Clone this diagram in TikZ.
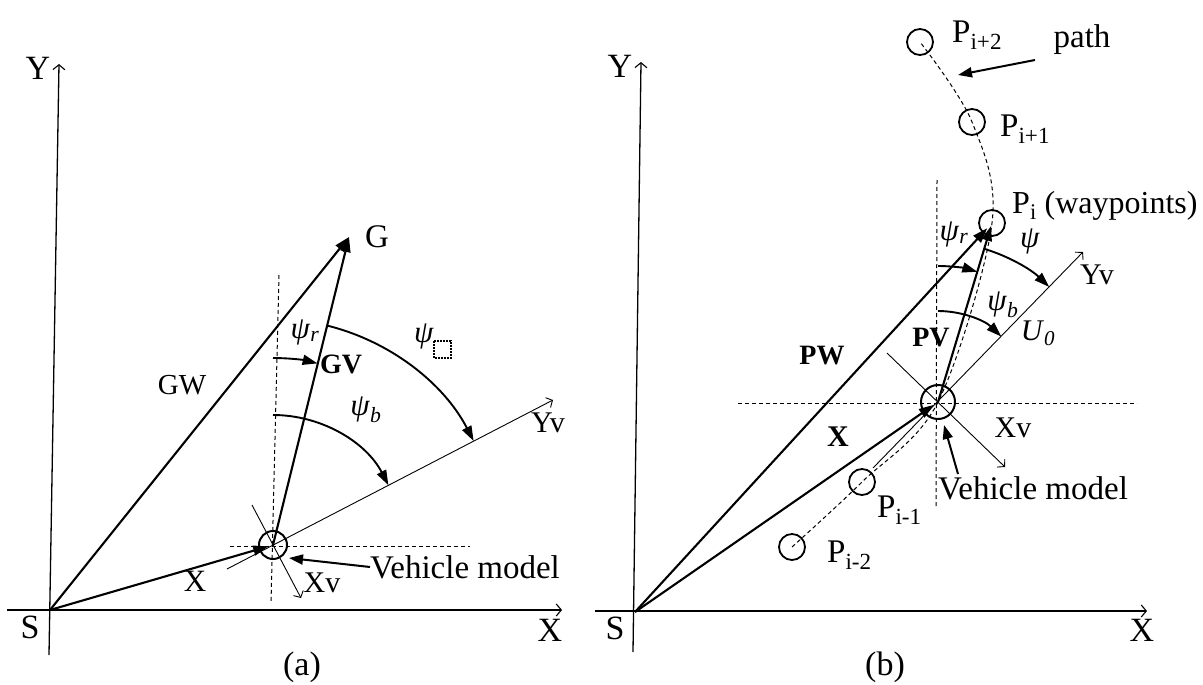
\documentclass[tikz,border=0pt]{standalone}
\usepackage{fontspec}
\setmainfont{Liberation Serif}
\usetikzlibrary{arrows.meta}
\newcommand{\fsz}[1]{\fontsize{#1}{#1}\selectfont}
\newcommand{\psisub}[1]{\textit{ψ}\textsubscript{\textit{#1}}}
\begin{document}
\begin{tikzpicture}[x=1pt,y=1pt,
  vec/.style={line width=2.1pt,-{Triangle[length=15pt,width=10pt]}},
  axisline/.style={line width=1.3pt,-{Straight Barb[length=5pt,width=12pt,line width=1.1pt]}},
  vaxis/.style={line width=0.9pt,-{Straight Barb[length=5pt,width=11pt,line width=0.9pt]}},
  guide/.style={line width=1pt,dash pattern=on 4pt off 3pt},
  pathline/.style={line width=1pt,dash pattern=on 4pt off 3pt},
  angarc/.style={line width=1.9pt,-{Triangle[length=15pt,width=10pt]}},
  pointer/.style={line width=2pt,-{Triangle[length=14pt,width=10pt]}},
  vehicle/.style={circle,draw,line width=2pt,inner sep=0pt},
  wpt/.style={circle,draw,line width=1.8pt,inner sep=0pt,minimum size=26pt},
  txt/.style={inner sep=0pt,font=\fsz{33}},
  big/.style={inner sep=0pt,font=\fsz{34}},
  bold/.style={inner sep=0pt,font=\fsz{28}\bfseries},
  psil/.style={inner sep=0pt,font=\fsz{31}},
]
\useasboundingbox (0,0) rectangle (1203,-685);

% ================= panel (a) =================
\coordinate (S1) at (50,-610);
\coordinate (X1s) at (7,-610);   \coordinate (X1e) at (562,-610);
\coordinate (Y1s) at (49,-655);  \coordinate (Y1e) at (59,-64);
\draw[axisline] (X1s) -- (X1e);
\draw[axisline] (Y1s) -- (Y1e);

\node[vehicle,minimum size=28pt] (V1) at (273,-545) {};
\coordinate (G) at (349,-237);

\coordinate (gv1a) at (279,-275); \coordinate (gv1b) at (271,-603);
\coordinate (gh1a) at (230,-546); \coordinate (gh1b) at (470,-546);
\draw[guide] (gv1a) -- (gv1b);
\draw[guide] (gh1a) -- (gh1b);

\coordinate (Yv1s) at (227,-569); \coordinate (Yv1e) at (553,-400);
\coordinate (Xv1s) at (252,-505); \coordinate (Xv1e) at (301,-598);
\draw[vaxis] (Yv1s) -- (Yv1e);
\draw[vaxis] (Xv1s) -- (Xv1e);

\draw[vec] (S1) -- (G);
\draw[vec,shorten >=5pt] (S1) -- (V1.center);
\draw[vec] (V1.center) -- (G);

\draw[angarc] (V1.center) ++(90:187) arc[start angle=90,end angle=76.2,radius=187];
\draw[angarc] (V1.center) ++(90:130) arc[start angle=90,end angle=27.4,radius=130];
\draw[angarc] (V1.center) ++(76.2:226) arc[start angle=76.2,end angle=27.4,radius=226];

\node[big] (Ylab1) at (38,-68) {Y};
\node[big] (Xlab1) at (550,-630) {X};
\node[big] (Slab1) at (30,-627) {S};
\node[big] (capa) at (302,-667) {(a)};
\node[txt] (Glab) at (377,-237) {G};
\node[txt,font=\fsz{29}] (GWlab) at (182,-385) {GW};
\node[bold] (GVlab) at (341,-364) {GV};
\node[txt,font=\fsz{31}] (Xveclab1) at (195,-581) {X};
\node[txt,font=\fsz{30}] (Xvlab1) at (322,-583) {Xv};
\node[txt,font=\fsz{30}] (Yvlab1) at (548,-423) {Yv};
\node[txt,anchor=west] (VM1) at (370,-567) {Vehicle model};
\coordinate (vm1tip) at (289,-558);
\draw[pointer] (VM1.west) -- (vm1tip);
\node[psil] (psir1) at (305,-332) {\psisub{r}};
\node[psil] (psib1) at (366,-410) {\psisub{b}};
\node[psil] (psi1) at (424,-336) {\textit{ψ}};
\draw[line width=1.4pt,dash pattern=on 1.6pt off 1.4pt] (434,-341) rectangle (451,-358);

% ================= panel (b) =================
\coordinate (S2) at (635,-612);
\coordinate (X2s) at (595,-611);  \coordinate (X2e) at (1147,-611);
\coordinate (Y2s) at (633,-652);  \coordinate (Y2e) at (641,-62);
\draw[axisline] (X2s) -- (X2e);
\draw[axisline] (Y2s) -- (Y2e);

\node[vehicle,minimum size=34pt] (V2) at (938,-402) {};
\node[wpt] (Pi)  at (992,-223) {};
\node[wpt] (Pi1) at (972,-122) {};
\node[wpt] (Pi2) at (920,-42) {};
\node[wpt] (Pm1) at (862,-482) {};
\node[wpt] (Pm2) at (792,-547) {};

\coordinate (gv2a) at (937,-180); \coordinate (gv2b) at (936,-508);
\coordinate (gh2a) at (738,-403); \coordinate (gh2b) at (1137,-403);
\draw[guide] (gv2a) -- (gv2b);
\draw[guide] (gh2a) -- (gh2b);

\draw[pathline] plot[smooth,tension=0.55] coordinates {(Pm2.center) (Pm1.center) (V2.center) (Pi.center) (Pi1.center) (Pi2.center)};

\coordinate (Yv2s) at (873,-468); \coordinate (Yv2e) at (1083,-252);
\coordinate (Xv2s) at (887,-353); \coordinate (Xv2e) at (1005,-467);
\draw[vaxis] (Yv2s) -- (Yv2e);
\draw[vaxis] (Xv2s) -- (Xv2e);

\draw[vec,shorten >=7pt] (S2) -- (Pi.center);
\draw[vec,shorten >=5pt] (S2) -- (V2.center);
\draw[vec,shorten >=3pt] (V2.center) -- (Pi.center);

\draw[angarc] (V2.center) ++(90:136) arc[start angle=90,end angle=73.2,radius=136];
\draw[angarc] (V2.center) ++(73.2:160) arc[start angle=73.2,end angle=46,radius=160];
\draw[angarc] (V2.center) ++(90:91) arc[start angle=90,end angle=46,radius=91];

\node[big] (Ylab2) at (620,-66) {Y};
\node[big] (Xlab2) at (1142,-630) {X};
\node[big] (Slab2) at (615,-628) {S};
\node[big] (capb) at (885,-667) {(b)};
\node[txt,anchor=west] (Pi2lab) at (952,-35) {P\textsubscript{i+2}};
\node[txt,anchor=west] (Pi1lab) at (1000,-129) {P\textsubscript{i+1}};
\node[txt,anchor=west,font=\fsz{32}] (Pilab) at (1012,-206) {P\textsubscript{i} (waypoints)};
\node[txt,anchor=west] (Pm1lab) at (877,-510) {P\textsubscript{i-1}};
\node[txt,anchor=west] (Pm2lab) at (827,-555) {P\textsubscript{i-2}};
\node[txt] (pathlab) at (1082,-40) {path};
\coordinate (pathtail) at (1035,-60);
\coordinate (pathtip) at (958,-75);
\draw[pointer] (pathtail) -- (pathtip);
\node[bold] (PWlab) at (822,-356) {PW};
\node[bold] (PVlab) at (931,-338) {PV};
\node[bold,font=\fsz{30}\bfseries] (Xveclab2) at (838,-437) {X};
\node[txt,font=\fsz{30}] (Xvlab2) at (1013,-428) {Xv};
\node[txt,font=\fsz{30}] (Yvlab2) at (1097,-275) {Yv};
\node[txt,font=\fsz{30}] (U0lab) at (1038,-333) {\textit{U}\textsubscript{\textit{0}}};
\node[psil] (psir2) at (954,-234) {\psisub{r}};
\node[psil] (psi2) at (1030,-241) {\textit{ψ}};
\node[psil] (psib2) at (1003,-305) {\psisub{b}};
\node[txt,anchor=west] (VM2) at (938,-488) {Vehicle model};
\coordinate (vm2tail) at (958,-474);
\coordinate (vm2tip) at (944,-425);
\draw[pointer] (vm2tail) -- (vm2tip);
\end{tikzpicture}
\end{document}
